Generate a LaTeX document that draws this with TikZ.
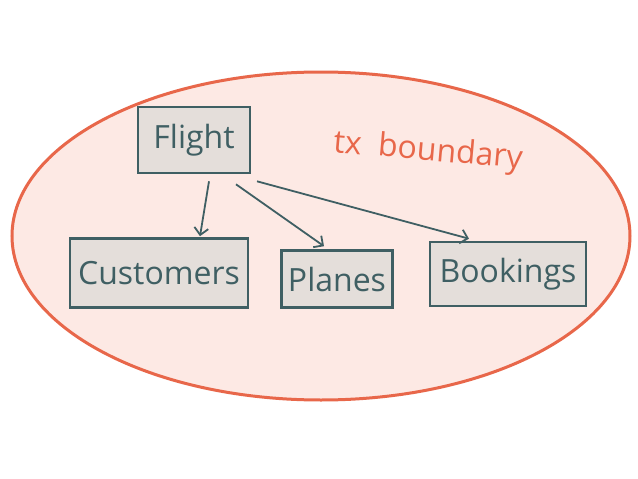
\documentclass[tikz,border=0pt]{standalone}
\usepackage{fontspec}
\setmainfont{Open Sans}
\usetikzlibrary{arrows.meta}
\definecolor{inkc}{HTML}{3F5F63}
\definecolor{boxfill}{HTML}{E4DEDA}
\definecolor{ellfill}{HTML}{FDE9E4}
\definecolor{ellline}{HTML}{E8674A}
\tikzset{
  entity/.style={draw=inkc, line width=2.6pt, fill=boxfill, text=inkc, font=\fontsize{32}{34}\selectfont, inner sep=0pt},
  arr/.style={draw=inkc, line width=1.8pt, -{Straight Barb[length=7pt,width=14pt,line width=1.8pt]}},
}
\begin{document}
\begin{tikzpicture}[x=1pt,y=-1pt]
\useasboundingbox (0,0) rectangle (638,479);
\fill[white] (0,0) rectangle (638,479);
\draw[draw=ellline, fill=ellfill, line width=3pt] (321,236) ellipse [x radius=309, y radius=164];
\node[entity, minimum width=112pt, minimum height=66pt] (Flight) at (194,140) {Flight};
\node[entity, minimum width=178pt, minimum height=69pt] (Customers) at (159,273) {Customers};
\node[entity, minimum width=111pt, minimum height=57pt] (Planes) at (337,279) {Planes};
\node[entity, minimum width=156pt, minimum height=64pt] (Bookings) at (508,274) {Bookings};
\node[text=ellline, font=\fontsize{32}{34}\selectfont, rotate=-5] (tx) at (428,152) {tx\ \ boundary};
\draw[arr] ([xshift=15pt,yshift=-7pt]Flight.south) -- ([xshift=41pt,yshift=1pt]Customers.north);
\draw[arr] ([xshift=42pt,yshift=-10pt]Flight.south) -- ([xshift=-13pt,yshift=3pt]Planes.north);
\draw[arr] ([xshift=63pt,yshift=-7pt]Flight.south) -- ([xshift=-39pt,yshift=2pt]Bookings.north);
\end{tikzpicture}
\end{document}
